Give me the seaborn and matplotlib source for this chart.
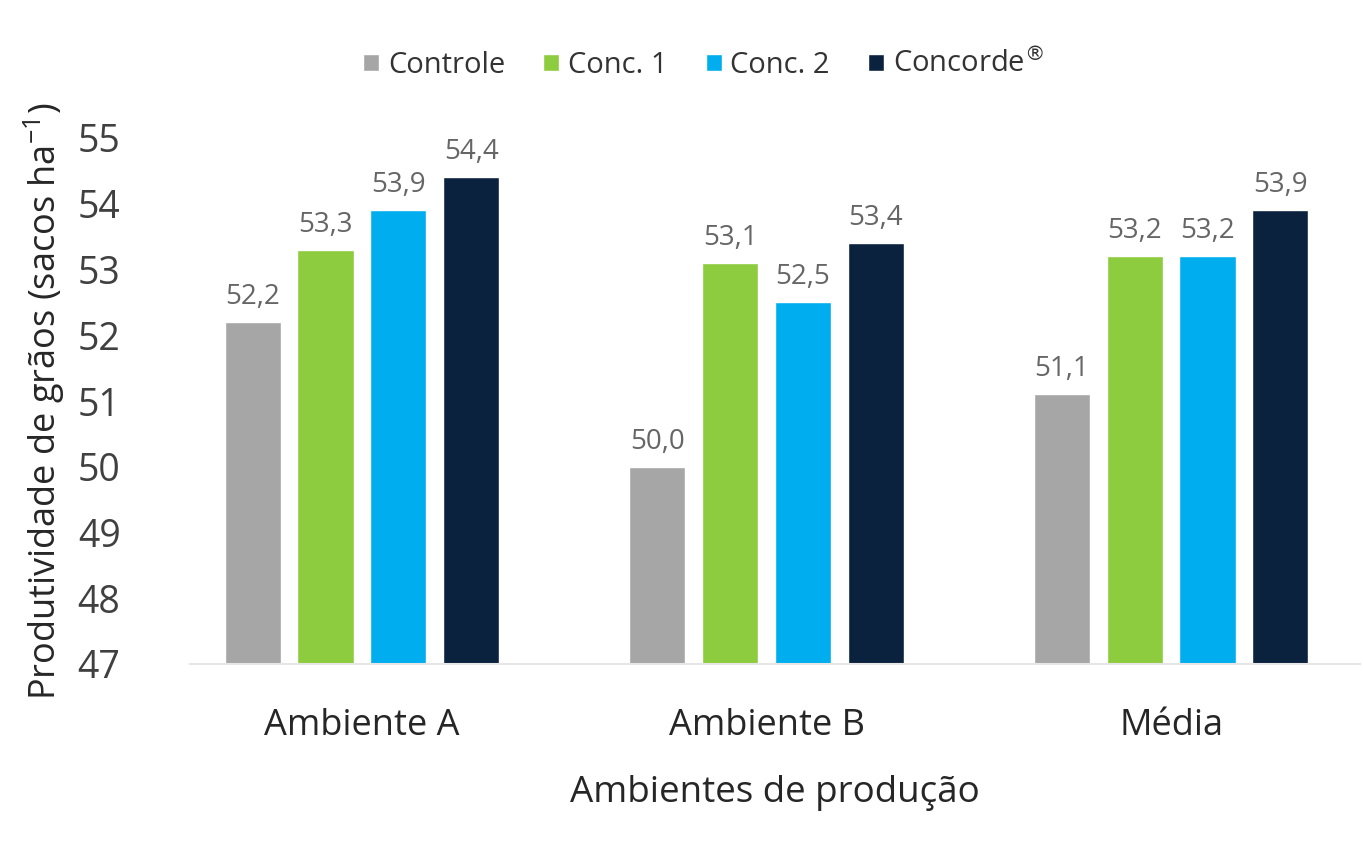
import matplotlib
matplotlib.use("Agg")
import matplotlib.pyplot as plt
import seaborn as sns
import pandas as pd

ambientes = ["Ambiente A", "Ambiente B", "Média"]
tratamentos = ["Controle", "Conc. 1", "Conc. 2", "Concorde$^{\\circledR}$"]
controle = [52.2, 50.0, 51.1]
conc1 = [53.3, 53.1, 53.2]
conc2 = [53.9, 52.5, 53.2]
concorde = [54.4, 53.4, 53.9]
cores = ["#A6A6A6", "#8DCB3F", "#00AEEF", "#0B223F"]
yticks = [47, 48, 49, 50, 51, 52, 53, 54, 55]

series = [controle, conc1, conc2, concorde]
rows = []
for t, vals in zip(tratamentos, series):
    for a, v in zip(ambientes, vals):
        rows.append({"Ambiente": a, "Tratamento": t, "Valor": v})
df = pd.DataFrame(rows)

sns.set_theme(style="white")
plt.rcParams["font.family"] = ["Open Sans", "DejaVu Sans"]

fig = plt.figure(figsize=(13.63, 8.44), dpi=100)
ax = fig.add_axes([190 / 1363, 1 - 664 / 844, (1360 - 190) / 1363, (664 - 138) / 844])

sns.barplot(data=df, x="Ambiente", y="Valor", hue="Tratamento", order=ambientes,
            hue_order=tratamentos, palette=cores, width=0.72, gap=0.23,
            saturation=1, ax=ax)

ax.set_ylim(47, 55)
ax.set_xlim(-0.425, 2.467)
ax.set_yticks(yticks)
ax.set_yticklabels([str(y) for y in yticks])

for cont in ax.containers:
    labs = [f"{b.get_height():.1f}".replace(".", ",") for b in cont]
    ax.bar_label(cont, labels=labs, padding=8, fontsize=20, color="#666666")

for s in ["top", "right", "left"]:
    ax.spines[s].set_visible(False)
ax.spines["bottom"].set_color("#E6E6E6")
ax.spines["bottom"].set_linewidth(1.5)

ax.tick_params(axis="y", labelsize=27, colors="#404040", pad=50, length=0)
ax.tick_params(axis="x", labelsize=26, colors="#262626", pad=32, length=0)

ax.set_xlabel("Ambientes de produção", fontsize=26.5, color="#262626", labelpad=22)
ax.set_ylabel("Produtividade de grãos (sacos ha$^{\\mathregular{-1}}$)", fontsize=26,
              color="#262626", labelpad=8)

ax.legend(loc="center", bbox_to_anchor=(0.439, 1.139),
          ncol=4, frameon=False, fontsize=21, handlelength=0.55, handleheight=0.55,
          handletextpad=0.3, columnspacing=1.3, labelcolor="#333333")

fig.savefig("out.png", dpi=100, facecolor="white")
